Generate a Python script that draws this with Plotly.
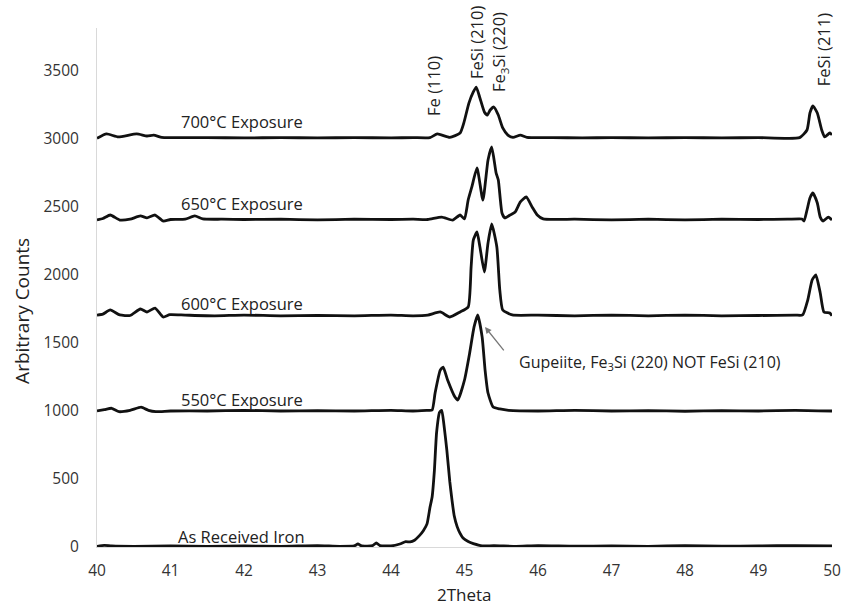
import plotly.graph_objects as go

# ---- data (2Theta, counts) ----
asr_x = [40.0, 40.1, 40.2, 40.5, 41.0, 41.5, 42.0, 42.5, 43.0, 43.3, 43.5, 43.55, 43.6, 43.75, 43.8, 43.85,
         44.0, 44.12, 44.2, 44.26, 44.32, 44.38, 44.44, 44.49, 44.53, 44.56, 44.59, 44.62, 44.66, 44.69,
         44.72, 44.76, 44.8, 44.83, 44.86, 44.9, 44.94, 44.98, 45.05, 45.12, 45.24, 45.4, 45.7, 46.0,
         46.5, 47.0, 47.5, 48.0, 48.5, 49.0, 49.5, 50.0]
asr_y = [5, 12, 8, 5, 8, 5, 8, 5, 10, 5, 8, 22, 8, 10, 30, 10,
         8, 22, 40, 37, 50, 80, 120, 170, 290, 370, 560, 840, 990, 1005,
         900, 710, 480, 345, 230, 150, 100, 66, 40, 25, 8, 10, 5, 10,
         6, 8, 5, 10, 6, 8, 10, 8]

s550_x = [40.0, 40.1, 40.2, 40.3, 40.45, 40.6, 40.7, 40.8, 41.0, 41.5, 42.0, 42.5, 43.0, 43.5, 44.0, 44.3,
          44.5, 44.56, 44.6, 44.67, 44.71, 44.77, 44.87, 44.91, 45.0, 45.07, 45.13, 45.18, 45.24, 45.28,
          45.32, 45.39, 45.48, 45.6, 46.0, 46.5, 47.0, 47.5, 48.0, 48.5, 49.0, 49.5, 50.0]
s550_y = [1000, 1010, 1020, 995, 1005, 1028, 1005, 995, 1000, 1000, 1005, 1000, 1003, 1000, 1005, 1000,
          1005, 1007, 1132, 1300, 1323, 1228, 1103, 1081, 1228, 1426, 1618, 1706, 1544, 1301,
          1132, 1029, 1015, 1005, 1000, 1005, 1000, 1003, 998, 1003, 1000, 1005, 1000]

s600_x = [40.0, 40.08, 40.18, 40.31, 40.45, 40.59, 40.68, 40.79, 40.9, 40.99, 41.2, 41.6, 42.0, 42.5, 43.0,
          43.5, 44.0, 44.3, 44.5, 44.67, 44.8, 44.94, 45.05, 45.09, 45.12, 45.17, 45.21, 45.27, 45.32,
          45.37, 45.44, 45.48, 45.52, 45.65, 46.0, 46.5, 47.0, 47.5, 48.0, 48.5, 49.0, 49.5, 49.6,
          49.67, 49.73, 49.78, 49.84, 49.89, 49.97, 50.0]
s600_y = [1705, 1712, 1743, 1706, 1702, 1750, 1728, 1757, 1691, 1708, 1705, 1700, 1705, 1700, 1703,
          1700, 1705, 1700, 1705, 1728, 1691, 1728, 1765, 2059, 2257, 2316, 2206, 2022, 2235,
          2375, 2206, 1890, 1743, 1706, 1705, 1700, 1705, 1700, 1705, 1700, 1702, 1705, 1706,
          1816, 1963, 2000, 1868, 1728, 1720, 1700]

s650_x = [40.0, 40.08, 40.18, 40.31, 40.45, 40.59, 40.68, 40.79, 40.9, 41.0, 41.2, 41.33, 41.44, 41.7,
          42.0, 42.5, 43.0, 43.5, 44.0, 44.3, 44.5, 44.69, 44.84, 44.94, 45.0, 45.05, 45.1, 45.17,
          45.25, 45.32, 45.37, 45.43, 45.46, 45.51, 45.55, 45.62, 45.69, 45.76, 45.84, 45.92, 45.99,
          46.07, 46.5, 47.0, 47.5, 48.0, 48.5, 49.0, 49.4, 49.59, 49.62, 49.66, 49.7, 49.74, 49.8,
          49.84, 49.88, 49.95, 50.0]
s650_y = [2405, 2415, 2441, 2404, 2410, 2434, 2420, 2441, 2397, 2408, 2410, 2434, 2412, 2410,
          2408, 2410, 2405, 2410, 2408, 2410, 2408, 2426, 2404, 2441, 2412, 2551, 2647, 2787,
          2551, 2846, 2941, 2750, 2698, 2456, 2419, 2441, 2463, 2537, 2574, 2500, 2441,
          2412, 2410, 2405, 2410, 2405, 2410, 2408, 2410, 2412, 2397, 2478, 2566, 2603, 2529,
          2426, 2397, 2426, 2404]

s700_x = [40.0, 40.13, 40.29, 40.54, 40.68, 40.77, 40.88, 41.0, 41.5, 42.0, 42.5, 43.0, 43.5, 44.0,
          44.3, 44.53, 44.63, 44.8, 44.94, 44.99, 45.06, 45.12, 45.16, 45.21, 45.27, 45.31, 45.35,
          45.4, 45.46, 45.52, 45.59, 45.66, 45.76, 45.85, 46.2, 46.6, 47.0, 47.5, 48.0, 48.5, 49.0,
          49.56, 49.66, 49.7, 49.74, 49.8, 49.86, 49.9, 49.97, 50.0]
s700_y = [3005, 3037, 3015, 3037, 3022, 3029, 3012, 3010, 3010, 3008, 3010, 3008, 3010, 3008,
          3010, 3010, 3037, 3012, 3044, 3117, 3264, 3346, 3382, 3301, 3199, 3176, 3213,
          3235, 3176, 3081, 3029, 3012, 3029, 3012, 3010, 3008, 3010, 3008, 3010, 3008, 3010,
          3010, 3066, 3191, 3243, 3191, 3066, 3015, 3044, 3030]

x_ticks = [40, 41, 42, 43, 44, 45, 46, 47, 48, 49, 50]
y_ticks = [0, 500, 1000, 1500, 2000, 2500, 3000, 3500]

series_labels = ["700°C Exposure", "650°C Exposure", "600°C Exposure", "550°C Exposure", "As Received Iron"]
series_label_y = [3125, 2529, 1794, 1081, 74]
peak_labels = ["Fe (110)", "FeSi (210)", "Fe<sub>3</sub>Si (220)", "FeSi (211)"]
peak_label_x = [44.585, 45.156, 45.47, 49.88]
peak_label_y = [3390, 3713, 3640, 3654]

FONT = "Open Sans"
fig = go.Figure()
for xs, ys in [(asr_x, asr_y), (s550_x, s550_y), (s600_x, s600_y), (s650_x, s650_y), (s700_x, s700_y)]:
    fig.add_trace(go.Scatter(x=xs, y=ys, mode="lines",
                             line=dict(color="#111111", width=2.8, shape="spline", smoothing=0.5),
                             showlegend=False, hoverinfo="skip"))

for txt, yv in zip(series_labels, series_label_y):
    fig.add_annotation(x=41.97, y=yv, text=txt, showarrow=False, xanchor="center", yanchor="middle",
                       font=dict(family=FONT, size=16.5, color="#222"))

for txt, xv, yv in zip(peak_labels, peak_label_x, peak_label_y):
    fig.add_annotation(x=xv, y=yv, text=txt, textangle=-90, showarrow=False,
                       xanchor="center", yanchor="middle",
                       font=dict(family=FONT, size=16.5, color="#222"))

fig.add_annotation(x=45.714, y=1360, text="Gupeiite, Fe<sub>3</sub>Si (220) NOT FeSi (210)",
                   showarrow=False, xanchor="left", yanchor="middle",
                   font=dict(family=FONT, size=16, color="#222"))
fig.add_annotation(x=45.279, y=1618, text="", showarrow=True, ax=20, ay=25,
                   arrowhead=2, arrowsize=1, arrowwidth=1.3, arrowcolor="#777777")

fig.add_annotation(x=-0.102, y=0.455, xref="paper", yref="paper", text="Arbitrary Counts",
                   textangle=-90, showarrow=False, xanchor="center", yanchor="middle",
                   font=dict(family=FONT, size=19, color="#222"))
fig.add_annotation(x=0.5, y=-0.0906, xref="paper", yref="paper", text="2Theta",
                   showarrow=False, xanchor="center", yanchor="middle",
                   font=dict(family=FONT, size=17, color="#222"))

fig.update_layout(
    width=846, height=607,
    margin=dict(l=97, r=14, t=28, b=60, autoexpand=False),
    paper_bgcolor="white", plot_bgcolor="white",
    xaxis=dict(range=[40, 50], tickvals=x_ticks, showgrid=False, zeroline=False, automargin=False,
               showline=True, linecolor="#d9d9d9", linewidth=1,
               ticks="outside", ticklen=9, tickcolor="rgba(0,0,0,0)",
               tickfont=dict(family=FONT, size=15.5, color="#333")),
    yaxis=dict(range=[0, 3816], tickvals=y_ticks, showgrid=False, zeroline=False, automargin=False,
               showline=True, linecolor="#d9d9d9", linewidth=1,
               ticks="outside", ticklen=14, tickcolor="rgba(0,0,0,0)",
               tickfont=dict(family=FONT, size=15.5, color="#333")),
)

# remove the browser's default 8px body margin so the figure fills the window exactly
fig.write_html("out.html", config={"displayModeBar": False},
               post_script="document.body.style.margin='0px';document.body.style.overflow='hidden';")
